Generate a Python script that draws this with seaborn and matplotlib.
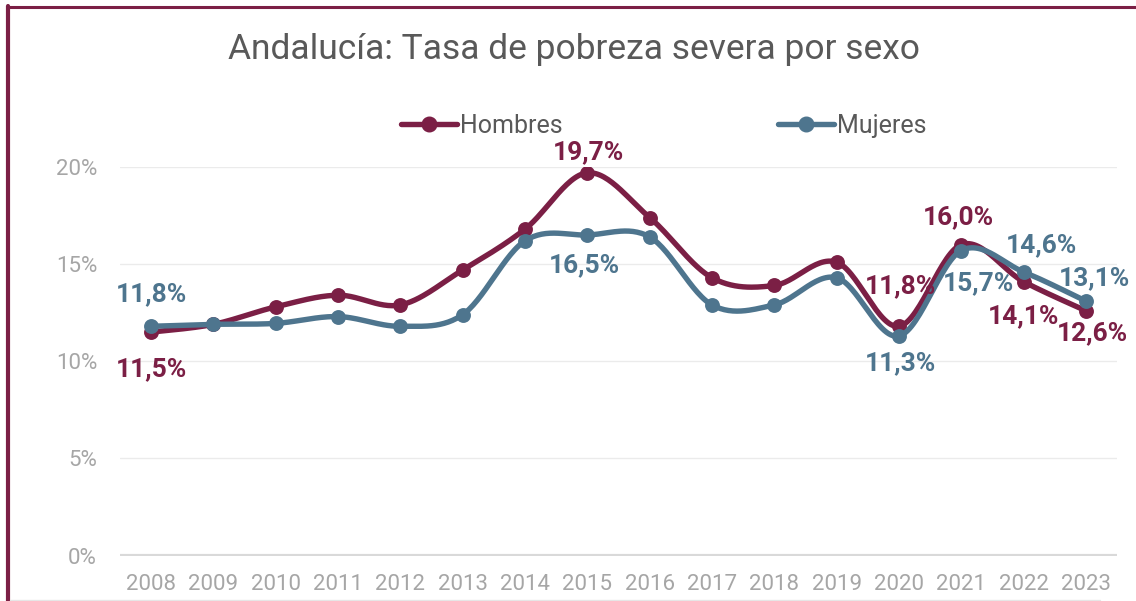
import numpy as np
import pandas as pd
import matplotlib
matplotlib.use("Agg")
import matplotlib.pyplot as plt
from matplotlib.lines import Line2D
import seaborn as sns

# ---------------- data ----------------
years = [2008, 2009, 2010, 2011, 2012, 2013, 2014, 2015,
         2016, 2017, 2018, 2019, 2020, 2021, 2022, 2023]
hombres = [11.5, 11.9, 12.8, 13.4, 12.9, 14.7, 16.8, 19.7,
           17.4, 14.3, 13.9, 15.1, 11.8, 16.0, 14.1, 12.6]
mujeres = [11.8, 11.9, 11.95, 12.3, 11.8, 12.4, 16.2, 16.5,
           16.4, 12.9, 12.9, 14.3, 11.3, 15.7, 14.6, 13.1]
series_names = ["Hombres", "Mujeres"]
title = "Andalucía: Tasa de pobreza severa por sexo"
yticks = [0, 5, 10, 15, 20]

# which points carry a data label, with pixel offsets (dx, dy up)
label_h = {2008: (0, -37), 2015: (1, 21), 2020: (2, 40), 2021: (-3, 27),
           2022: (0, -35), 2023: (7, -22)}
label_m = {2008: (0, 32), 2015: (-3, -30), 2020: (2, -27), 2021: (17, -33),
           2022: (18, 27), 2023: (9, 23)}

# ---------------- style ----------------
C_H = "#7B1F45"
C_M = "#4E758E"
C_TXT = "#595959"
C_TICK = "#A6A6A6"

sns.set_theme(style="white")
plt.rcParams["font.family"] = ["Roboto", "DejaVu Sans"]

W, H = 1136, 601
fig = plt.figure(figsize=(W / 100, H / 100), dpi=100)
fig.patch.set_facecolor("white")
ax = fig.add_axes([120 / W, 1 - 555.5 / H, (1117 - 120) / W, (555.5 - 167) / H])


def smooth(xs, ys, n=30):
    """Catmull-Rom (Excel-like) smoothing of a polyline for drawing."""
    xs = np.asarray(xs, float)
    ys = np.asarray(ys, float)
    px, py = [], []
    m = len(xs)
    for i in range(m - 1):
        p0 = (xs[max(i - 1, 0)], ys[max(i - 1, 0)])
        p1 = (xs[i], ys[i])
        p2 = (xs[i + 1], ys[i + 1])
        p3 = (xs[min(i + 2, m - 1)], ys[min(i + 2, m - 1)])
        c1 = (p1[0] + (p2[0] - p0[0]) / 6, p1[1] + (p2[1] - p0[1]) / 6)
        c2 = (p2[0] - (p3[0] - p1[0]) / 6, p2[1] - (p3[1] - p1[1]) / 6)
        t = np.linspace(0, 1, n, endpoint=(i == m - 2))
        b0 = (1 - t) ** 3
        b1 = 3 * (1 - t) ** 2 * t
        b2 = 3 * (1 - t) * t ** 2
        b3 = t ** 3
        px.extend(b0 * p1[0] + b1 * c1[0] + b2 * c2[0] + b3 * p2[0])
        py.extend(b0 * p1[1] + b1 * c1[1] + b2 * c2[1] + b3 * p2[1])
    return np.array(px), np.array(py)


xpos = np.arange(len(years))
df = pd.DataFrame({"x": np.tile(xpos, 2),
                   "year": years * 2,
                   "value": hombres + mujeres,
                   "serie": [series_names[0]] * len(years) + [series_names[1]] * len(years)})

# grid lines
for yv in yticks[1:]:
    ax.axhline(yv, color="#EBEBEB", lw=1.0, zorder=0)
ax.axhline(0, color="#D9D9D9", lw=3.0, zorder=1)

for name, col, z in [(series_names[0], C_H, 3), (series_names[1], C_M, 5)]:
    sub = df[df["serie"] == name]
    sx, sy = smooth(sub["x"], sub["value"])
    sns.lineplot(x=sx, y=sy, ax=ax, color=col, lw=3.9, sort=False,
                 estimator=None, zorder=z, solid_capstyle="round")
    sns.scatterplot(data=sub, x="x", y="value", ax=ax, color=col, s=115,
                    edgecolor=col, linewidth=0, zorder=z + 0.5, legend=False)

# data labels
for name, col, labs, vals in [(series_names[0], C_H, label_h, hombres),
                              (series_names[1], C_M, label_m, mujeres)]:
    for yr, (dx, dy) in labs.items():
        i = years.index(yr)
        v = vals[i]
        txt = f"{v:.1f}%".replace(".", ",")
        ax.annotate(txt, xy=(i, v), xytext=(dx * 0.72, dy * 0.72),
                    textcoords="offset points", ha="center", va="center",
                    fontsize=19, fontweight="bold", color=col, zorder=10)

ax.set_xlim(-0.5, len(years) - 0.5)
ax.set_ylim(0, 20)
ax.set_xticks(xpos)
ax.set_xticklabels([str(y) for y in years])
ax.set_yticks(yticks)
ax.set_yticklabels([f"{t}%" for t in yticks])
ax.tick_params(axis="both", length=0, labelsize=16, labelcolor=C_TICK)
ax.tick_params(axis="y", pad=16.5)
ax.tick_params(axis="x", pad=13)
ax.set_xlabel("")
ax.set_ylabel("")
for s in ax.spines.values():
    s.set_visible(False)
ax.set_facecolor("none")

# legend
handles = [Line2D([], [], color=C_H, lw=3.9, marker="o", markersize=10.5, solid_capstyle="round"),
           Line2D([], [], color=C_M, lw=3.9, marker="o", markersize=10.5, solid_capstyle="round")]
leg = fig.legend(handles, series_names, loc="center",
                 bbox_to_anchor=(664 / W, 1 - 126 / H), ncol=2, frameon=False,
                 fontsize=18, handlelength=2.25, handletextpad=0.12,
                 columnspacing=8.6, borderpad=0)
for t in leg.get_texts():
    t.set_color(C_TXT)

# title
fig.text(574 / W, 1 - 59.5 / H, title, ha="center", va="baseline",
         fontsize=25.5, color=C_TXT)

# frame decorations
fig.add_artist(Line2D([8.3 / W, 8.3 / W], [0, 1 - 6 / H], color=C_H, lw=3.0,
                      transform=fig.transFigure))
fig.add_artist(Line2D([6.5 / W, 1], [1 - 7.3 / H, 1 - 7.3 / H], color=C_H, lw=2.2,
                      transform=fig.transFigure))
fig.add_artist(Line2D([10 / W, 1100 / W], [1 - 600 / H, 1 - 600 / H], color="#E6E6E6",
                      lw=1.0, transform=fig.transFigure))

fig.savefig("out.png", dpi=100, facecolor="white")
